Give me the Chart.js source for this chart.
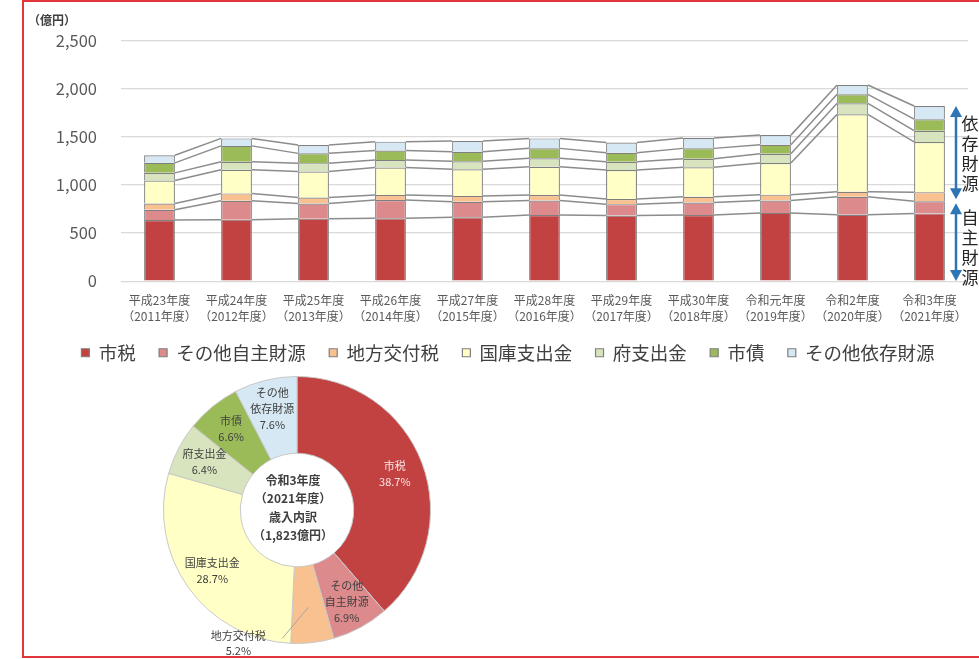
<!DOCTYPE html>
<html>
<head>
<meta charset="utf-8">
<script src="https://cdn.jsdelivr.net/npm/chart.js@4.4.0/dist/chart.umd.min.js"></script>
<style>
  html, body { margin: 0; padding: 0; background: #fff; }
  body { width: 979px; height: 659px; position: relative; overflow: hidden; }
  #bars { position: absolute; left: 0; top: 0; }
  #pie { position: absolute; left: 130px; top: 365px; }
  #frame { position: absolute; left: 22px; top: 0; width: 1000px; height: 658px; border: 2px solid #e3343c; box-sizing: border-box; pointer-events: none; }
</style>
</head>
<body>
<canvas id="bars" width="979" height="379"></canvas>
<canvas id="pie" width="330" height="294"></canvas>
<div id="frame"></div>
<script>
// fiscal years (two-line tick labels)
const years = [
  ['平成23年度', '（2011年度）'], ['平成24年度', '（2012年度）'], ['平成25年度', '（2013年度）'],
  ['平成26年度', '（2014年度）'], ['平成27年度', '（2015年度）'], ['平成28年度', '（2016年度）'],
  ['平成29年度', '（2017年度）'], ['平成30年度', '（2018年度）'], ['令和元年度', '（2019年度）'],
  ['令和2年度', '（2020年度）'], ['令和3年度', '（2021年度）']
];
const seriesNames = ['市税', 'その他自主財源', '地方交付税', '国庫支出金', '府支出金', '市債', 'その他依存財源'];
const seriesColors = ['#c24242', '#dc8a8c', '#f9c190', '#ffffc6', '#d7e4bd', '#9bbb59', '#d5e8f3'];

// 億円
const shizei      = [635, 640, 650, 655, 665, 688, 683, 688, 710, 690, 705];
const sonotaJishu = [108, 197, 158, 190, 160, 150, 118, 130, 130, 188, 126];
const chihoKofu   = [ 64,  76,  62,  52,  62,  58,  53,  60,  60,  52,  95];
const kokko       = [240, 247, 270, 285, 278, 295, 302, 308, 330, 806, 523];
const fuShishutsu = [ 80,  83,  88,  78,  82,  87,  87,  87,  95, 115, 117];
const shisai      = [104, 165, 102, 100, 100, 104,  94, 109,  95,  94, 120];
const sonotaIzon  = [ 80,  78,  87,  92, 113, 104, 105, 108, 100,  97, 137];
const yTicks = [0, 500, 1000, 1500, 2000, 2500];

// 令和3年度 breakdown (%)
const share2021 = [38.7, 6.9, 5.2, 28.7, 6.4, 6.6, 7.6];
const pieLabelLines = [['市税'], ['その他', '自主財源'], ['地方交付税'], ['国庫支出金'], ['府支出金'], ['市債'], ['その他', '依存財源']];

const FONT = "'Noto Sans CJK JP', 'Noto Sans', sans-serif";
Chart.defaults.font.family = FONT;

const seriesValues = [shizei, sonotaJishu, chihoKofu, kokko, fuShishutsu, shisai, sonotaIzon];
const lastIdx = years.length - 1;
const total2021 = seriesValues.reduce((s, arr) => s + arr[lastIdx], 0);

// connector lines between neighbouring bars, one per segment top
const seriesLines = {
  id: 'seriesLines',
  afterDatasetsDraw(chart) {
    const ctx = chart.ctx;
    ctx.save();
    ctx.strokeStyle = '#8c8c8c';
    ctx.lineWidth = 1.5;
    chart.data.datasets.forEach((ds, d) => {
      const els = chart.getDatasetMeta(d).data;
      for (let i = 0; i < els.length - 1; i++) {
        const a = els[i], b = els[i + 1];
        ctx.beginPath();
        ctx.moveTo(a.x + a.width / 2, a.y);
        ctx.lineTo(b.x - b.width / 2, b.y);
        ctx.stroke();
      }
    });
    ctx.restore();
  }
};

// nudge the legend row so it sits like the original (centred a bit right, closer to the axis)
const legendNudge = {
  id: 'legendNudge',
  afterLayout(chart) {
    const lg = chart.legend;
    lg.left += 24; lg.right += 24;
    lg.top -= 5; lg.bottom -= 5;
  }
};

function arrow(ctx, x, y1, y2) {
  const h = 11, w = 6;
  ctx.beginPath();
  ctx.moveTo(x, y1 + h - 2); ctx.lineTo(x, y2 - h + 2); ctx.stroke();
  ctx.beginPath();
  ctx.moveTo(x, y1); ctx.lineTo(x - w, y1 + h); ctx.lineTo(x + w, y1 + h); ctx.closePath(); ctx.fill();
  ctx.beginPath();
  ctx.moveTo(x, y2); ctx.lineTo(x - w, y2 - h); ctx.lineTo(x + w, y2 - h); ctx.closePath(); ctx.fill();
}

// unit label + 依存/自主 brackets beside the last bar
const annotations = {
  id: 'annotations',
  afterDraw(chart) {
    const ctx = chart.ctx, area = chart.chartArea, y = chart.scales.y;
    ctx.save();
    ctx.fillStyle = '#404040';
    ctx.font = 'bold 12px ' + FONT;
    ctx.textAlign = 'left';
    ctx.textBaseline = 'middle';
    ctx.fillText('（億円）', area.left - 93, area.top - 21);

    const jishu = shizei[lastIdx] + sonotaJishu[lastIdx];
    const yTop = y.getPixelForValue(total2021);
    const yMid = y.getPixelForValue(jishu);
    const yBot = y.getPixelForValue(0);
    const ax = area.right - 12;
    ctx.strokeStyle = '#2e75b6';
    ctx.fillStyle = '#2e75b6';
    ctx.lineWidth = 2.5;
    arrow(ctx, ax, yTop, yMid - 2);
    arrow(ctx, ax, yMid + 2, yBot);

    ctx.fillStyle = '#262626';
    ctx.font = '17px ' + FONT;
    ctx.textAlign = 'center';
    const drawVertical = (txt, cy) => {
      const chars = [...txt];
      chars.forEach((c, i) => ctx.fillText(c, area.right + 2, cy + (i - (chars.length - 1) / 2) * 20));
    };
    drawVertical('依存財源', (yTop + yMid) / 2);
    drawVertical('自主財源', (yMid + yBot) / 2 + 6);
    ctx.restore();
  }
};

new Chart(document.getElementById('bars'), {
  type: 'bar',
  data: {
    labels: years,
    datasets: seriesNames.map((name, i) => ({
      label: name,
      data: seriesValues[i],
      backgroundColor: seriesColors[i],
      borderColor: '#7f7f7f',
      borderWidth: 1.2,
      barPercentage: 0.4,
      categoryPercentage: 1
    }))
  },
  options: {
    responsive: false,
    animation: false,
    layout: { padding: { left: 0, right: 11, top: 41, bottom: 2 } },
    plugins: {
      legend: {
        position: 'bottom',
        labels: { font: { size: 18.5 }, color: '#404040', boxWidth: 8, boxHeight: 8, padding: 23.4 }
      },
      tooltip: { enabled: false }
    },
    scales: {
      x: {
        stacked: true,
        grid: { display: false, drawTicks: false },
        border: { display: false },
        ticks: { font: { size: 12, lineHeight: 1.4 }, color: '#595959', padding: 10.6, maxRotation: 0, autoSkip: false },
        afterFit(s) { s.height = 44; }
      },
      y: {
        stacked: true,
        min: yTicks[0],
        max: yTicks[yTicks.length - 1],
        afterBuildTicks(s) { s.ticks = yTicks.map(v => ({ value: v })); },
        ticks: { font: { size: 16.5 }, color: '#595959', padding: 24 },
        grid: { color: '#d9d9d9', drawTicks: false, lineWidth: 1.2 },
        border: { display: false },
        afterFit(s) { s.width = 121; }
      }
    }
  },
  plugins: [seriesLines, legendNudge, annotations]
});

// labels inside/outside the doughnut and the centre caption
const pieText = {
  id: 'pieText',
  afterDraw(chart) {
    const ctx = chart.ctx;
    const arcs = chart.getDatasetMeta(0).data;
    const cx = arcs[0].x, cy = arcs[0].y;
    ctx.save();
    ctx.textAlign = 'center';
    ctx.textBaseline = 'middle';

    const centerLines = ['令和3年度', '（2021年度）', '歳入内訳', '（' + total2021.toLocaleString() + '億円）'];
    ctx.fillStyle = '#404040';
    ctx.font = 'bold 12px ' + FONT;
    centerLines.forEach((t, i) => ctx.fillText(t, cx - 4, cy - 2 + (i - 1.5) * 18.3));

    ctx.font = '11px ' + FONT;
    arcs.forEach((arc, i) => {
      const mid = (arc.startAngle + arc.endAngle) / 2;
      const lines = pieLabelLines[i].concat([share2021[i].toFixed(1) + '%']);
      if (i === 2) {
        // thin slice: label below with a leader line
        const ax = cx + Math.cos(mid) * 98, ay = cy + Math.sin(mid) * 98;
        const ex = ax - 26, ey = ay + 31;
        ctx.strokeStyle = '#a6a6a6';
        ctx.lineWidth = 1;
        ctx.beginPath(); ctx.moveTo(ax, ay); ctx.lineTo(ex, ey); ctx.stroke();
        ctx.fillStyle = '#404040';
        lines.forEach((t, k) => ctx.fillText(t, ex - 44, ey - 3 + k * 15));
        return;
      }
      const r = arc.innerRadius + (arc.outerRadius - arc.innerRadius) * 0.62;
      const lx = cx + Math.cos(mid) * r, ly = cy + Math.sin(mid) * r;
      ctx.fillStyle = i === 0 ? '#fbe3e3' : '#404040';
      lines.forEach((t, k) => ctx.fillText(t, lx, ly + (k - (lines.length - 1) / 2) * 16));
    });
    ctx.restore();
  }
};

new Chart(document.getElementById('pie'), {
  type: 'doughnut',
  data: {
    labels: seriesNames,
    datasets: [{ data: share2021, backgroundColor: seriesColors, borderColor: '#c8c8c8', borderWidth: 1 }]
  },
  options: {
    responsive: false,
    animation: false,
    cutout: '42.5%',
    layout: { padding: { left: 33, right: 29, top: 11, bottom: 15 } },
    plugins: { legend: { display: false }, tooltip: { enabled: false } }
  },
  plugins: [pieText]
});
</script>
</body>
</html>
